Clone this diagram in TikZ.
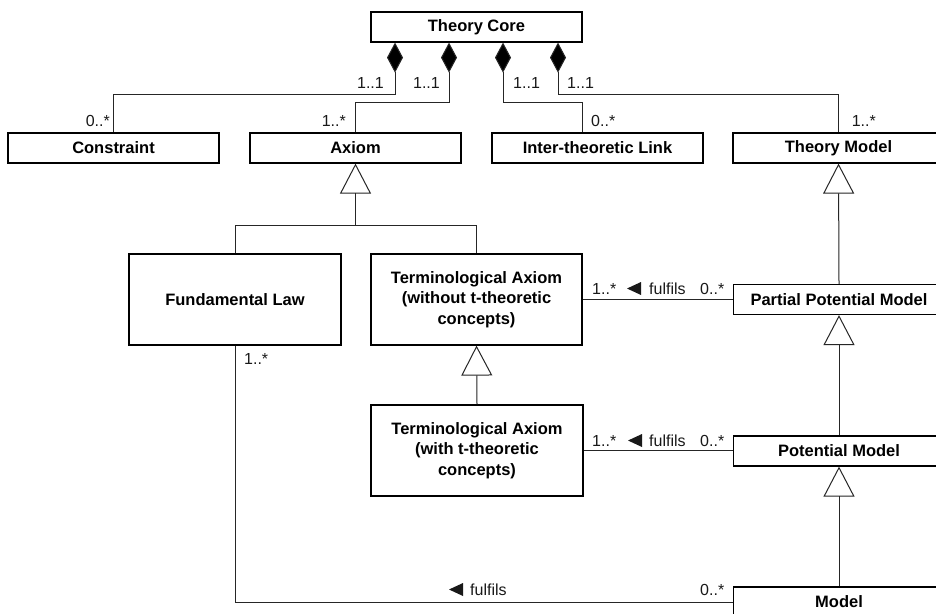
\documentclass[tikz,border=0pt]{standalone}
\usepackage{fontspec}
\setmainfont{Liberation Sans}
\usetikzlibrary{arrows.meta}
\begin{document}
\begin{tikzpicture}[x=1pt,y=-1pt,
  cls/.style={draw=black, line width=1.2pt, fill=white, inner sep=0pt, align=center,
    font=\fontsize{16.5}{20.5}\selectfont\bfseries, minimum width=211pt, minimum height=30pt},
  big/.style={cls, minimum width=212pt, minimum height=91pt},
  conn/.style={line width=1pt, draw=black!85},
  comp/.style={conn, {Diamond[length=30pt,width=16pt,fill=black]}-},
  gen/.style={conn, {Triangle[open,length=30pt,width=31pt]}-},
  mult/.style={font=\fontsize{16}{16}\selectfont, inner sep=0pt, text=black!90},
  dirtri/.style={fill=black!90}
]
\useasboundingbox (0,0) rectangle (936,613);
\clip (0,0) rectangle (936,613);
\fill[white] (0,0) rectangle (936,613);

% class boxes
\node[cls] (core) at (476.5,27) {Theory Core};
\node[cls] (constraint) at (113.5,148) {Constraint};
\node[cls] (axiom) at (355.5,148) {Axiom};
\node[cls] (itl) at (597.5,148) {Inter-theoretic Link};
\node[cls] (tm) at (838.5,148) {Theory Model};
\node[big] (fl) at (235,299.5) {Fundamental Law};
\node[big, minimum width=211pt] (tw) at (476.5,299.5) {Terminological Axiom\\(without t-theoretic\\concepts)};
\node[big] (tt) at (477,450.5) {Terminological Axiom\\(with t-theoretic\\concepts)};
\node[cls] (ppm) at (839,299.5) {Partial Potential Model};
\node[cls] (pm) at (839,451) {Potential Model};
\node[cls] (model) at (839,602) {Model};

% compositions
\draw[comp] ([xshift=-81.5pt]core.south) |- ([yshift=38pt]constraint.north) -- (constraint.north);
\draw[comp] ([xshift=-27.5pt]core.south) |- ([yshift=30pt]axiom.north) -- (axiom.north);
\draw[comp] ([xshift=26.5pt]core.south) |- ([xshift=-15.5pt,yshift=30pt]itl.north) -- ([xshift=-15.5pt]itl.north);
\draw[comp] ([xshift=81.5pt]core.south) |- ([yshift=38pt]tm.north) -- (tm.north);

\node[mult, anchor=base east] (m1) at (384,88) {1..1};
\node[mult, anchor=base east] (m2) at (440,88) {1..1};
\node[mult, anchor=base west] (m3) at (513,88) {1..1};
\node[mult, anchor=base west] (m4) at (567,88) {1..1};
\node[mult, anchor=base east] (m5) at (110,126) {0..*};
\node[mult, anchor=base east] (m6) at (346,126) {1..*};
\node[mult, anchor=base west] (m7) at (591,126) {0..*};
\node[mult, anchor=base east] (m8) at (876,126) {1..*};

% generalisations
\coordinate (j) at ([yshift=-62pt]axiom.south);
\draw[gen] (axiom.south) -- (j);
\draw[conn] (fl.north) |- (j) -| (tw.north);
\draw[gen] (tw.south) -- (tt.north);
\draw[gen] (tm.south) -- (ppm.north);
\draw[gen] (ppm.south) -- (pm.north);
\draw[gen] (pm.south) -- (model.north);

% associations
\draw[conn] (tw.east) -- (tw.east -| ppm.west);
\draw[conn] (tt.east) -- (tt.east -| pm.west);
\draw[conn] (fl.south) |- (model.west);

\node[mult, anchor=base west] (m9) at (592,294) {1..*};
\fill[dirtri] (641,282) -- (641,295) -- (627,288.5) -- cycle;
\node[mult, anchor=base west] (f1) at (649,294) {fulfils};
\node[mult, anchor=base west] (m10) at (700,294) {0..*};

\node[mult, anchor=base west] (m11) at (592,446) {1..*};
\fill[dirtri] (642,434) -- (642,447) -- (628,440.5) -- cycle;
\node[mult, anchor=base west] (f2) at (649,446) {fulfils};
\node[mult, anchor=base west] (m12) at (700,446) {0..*};

\node[mult, anchor=base west] (m13) at (244,364) {1..*};
\fill[dirtri] (463,583) -- (463,596) -- (449,589.5) -- cycle;
\node[mult, anchor=base west] (f3) at (470,595) {fulfils};
\node[mult, anchor=base west] (m14) at (700,595) {0..*};
\end{tikzpicture}
\end{document}
